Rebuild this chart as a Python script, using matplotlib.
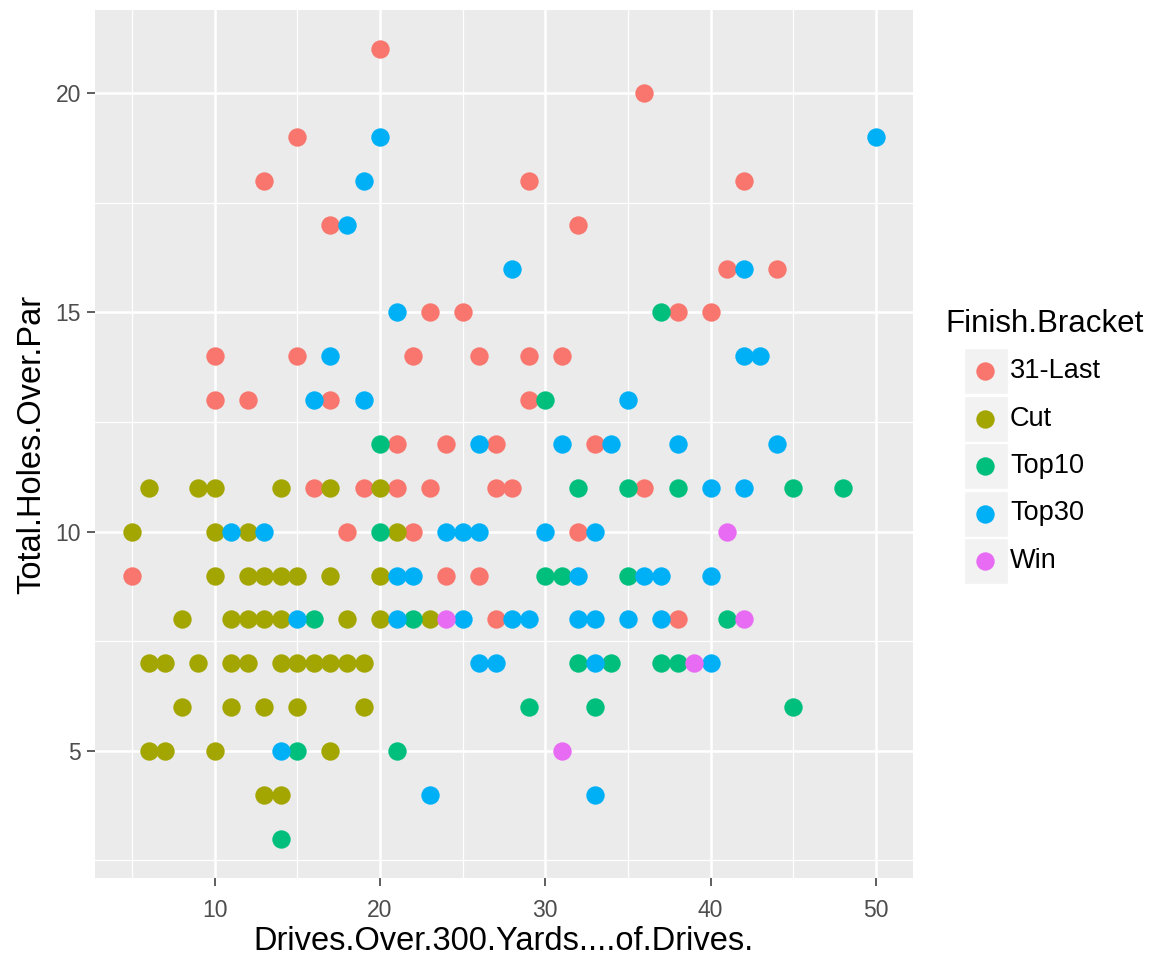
import matplotlib
matplotlib.use("Agg")
import matplotlib.pyplot as plt
from matplotlib.patches import Rectangle

plt.rcParams["font.family"] = ["Liberation Sans", "DejaVu Sans"]

# points per finish bracket: drives over 300 yards (%) and total holes over par
last_x = [20, 36, 15, 13, 29, 42, 17, 32, 41, 44, 23, 25, 38, 40, 10, 15, 22, 26, 29, 31,
          10, 12, 17, 29, 21, 24, 27, 33, 16, 19, 21, 23, 27, 28, 36, 18, 22, 32, 5, 24, 26, 27, 38]
last_y = [21, 20, 19, 18, 18, 18, 17, 17, 16, 16, 15, 15, 15, 15, 14, 14, 14, 14, 14, 14,
          13, 13, 13, 13, 12, 12, 12, 12, 11, 11, 11, 11, 11, 11, 11, 10, 10, 10, 9, 9, 9, 8, 8]

cut_x = [6, 9, 10, 14, 17, 20,
         5, 10, 12, 21,
         10, 12, 13, 14, 15, 17, 20,
         8, 11, 12, 13, 14, 18, 20, 23,
         6, 7, 9, 11, 12, 14, 15, 16, 17, 18, 19,
         8, 11, 13, 15, 19,
         6, 7, 10, 17,
         13, 14]
cut_y = [11] * 6 + [10] * 4 + [9] * 7 + [8] * 8 + [7] * 11 + [6] * 5 + [5] * 4 + [4] * 2

top10_x = [37, 30, 20, 32, 35, 38, 45, 48, 20, 30, 31, 35, 16, 22, 41, 32, 34, 37, 38,
           29, 33, 45, 15, 21, 14]
top10_y = [15, 13, 12, 11, 11, 11, 11, 11, 10, 9, 9, 9, 8, 8, 8, 7, 7, 7, 7,
           6, 6, 6, 5, 5, 3]

top30_x = [20, 50, 19, 18, 28, 42, 21, 17, 42, 43, 16, 19, 35, 26, 31, 34, 38, 44, 40, 42,
           11, 13, 24, 25, 26, 30, 33, 21, 22, 32, 36, 37, 40,
           15, 21, 25, 28, 29, 32, 33, 35, 37, 26, 27, 33, 40, 14, 23, 33]
top30_y = [19, 19, 18, 17, 16, 16, 15, 14, 14, 14, 13, 13, 13, 12, 12, 12, 12, 12, 11, 11,
           10, 10, 10, 10, 10, 10, 10, 9, 9, 9, 9, 9, 9,
           8, 8, 8, 8, 8, 8, 8, 8, 8, 7, 7, 7, 7, 5, 4, 4]

win_x = [41, 24, 42, 39, 31]
win_y = [10, 8, 8, 7, 5]

brackets = ["31-Last", "Cut", "Top10", "Top30", "Win"]
colors = ["#F8766D", "#A3A500", "#00BF7D", "#00B0F6", "#E76BF3"]
series = [(last_x, last_y), (cut_x, cut_y), (top10_x, top10_y), (top30_x, top30_y), (win_x, win_y)]

fig = plt.figure(figsize=(11.76, 9.6), dpi=100)
ax = fig.add_axes([95 / 1176, 1 - 878 / 960, (913 - 95) / 1176, (878 - 10) / 960])
ax.set_facecolor("#EBEBEB")

for (xs, ys), c in zip(series, colors):
    ax.scatter(xs, ys, s=175, color=c, linewidths=0, zorder=3)

ax.set_xlim(2.75, 52.25)
ax.set_ylim(2.1, 21.9)
ax.set_xticks([10, 20, 30, 40, 50])
ax.set_yticks([5, 10, 15, 20])
ax.set_xticks([5, 15, 25, 35, 45], minor=True)
ax.set_yticks([2.5, 7.5, 12.5, 17.5], minor=True)
ax.grid(True, which="major", color="white", linewidth=1.8)
ax.grid(True, which="minor", color="white", linewidth=0.9)
ax.set_axisbelow(True)
for sp in ax.spines.values():
    sp.set_visible(False)
ax.tick_params(which="major", length=6, width=1.1, color="#333333",
               labelcolor="#4D4D4D", labelsize=16.5)
ax.tick_params(axis="x", pad=9)
ax.tick_params(axis="y", pad=4)
ax.tick_params(which="minor", length=0)

ax.set_xlabel("Drives.Over.300.Yards....of.Drives.", fontsize=23.5, color="black", labelpad=3)
ax.set_ylabel("Total.Holes.Over.Par", fontsize=23.5, color="black", labelpad=6)

# legend drawn in figure pixel space, ggplot style keys
leg = fig.add_axes([0, 0, 1, 1])
leg.set_xlim(0, 1176)
leg.set_ylim(960, 0)
leg.axis("off")
leg.patch.set_visible(False)
leg.text(945, 324, "Finish.Bracket", fontsize=22.5, ha="left", va="center")
for i, (name, c) in enumerate(zip(brackets, colors)):
    yc = 371 + i * 47.5
    leg.add_patch(Rectangle((964, yc - 23), 44, 46, facecolor="#F2F2F2", edgecolor="white", linewidth=1))
    leg.scatter([985], [yc], s=175, color=c, linewidths=0)
    leg.text(1010, yc, name, fontsize=19.5, ha="left", va="center")

fig.savefig("out.png", dpi=100)
